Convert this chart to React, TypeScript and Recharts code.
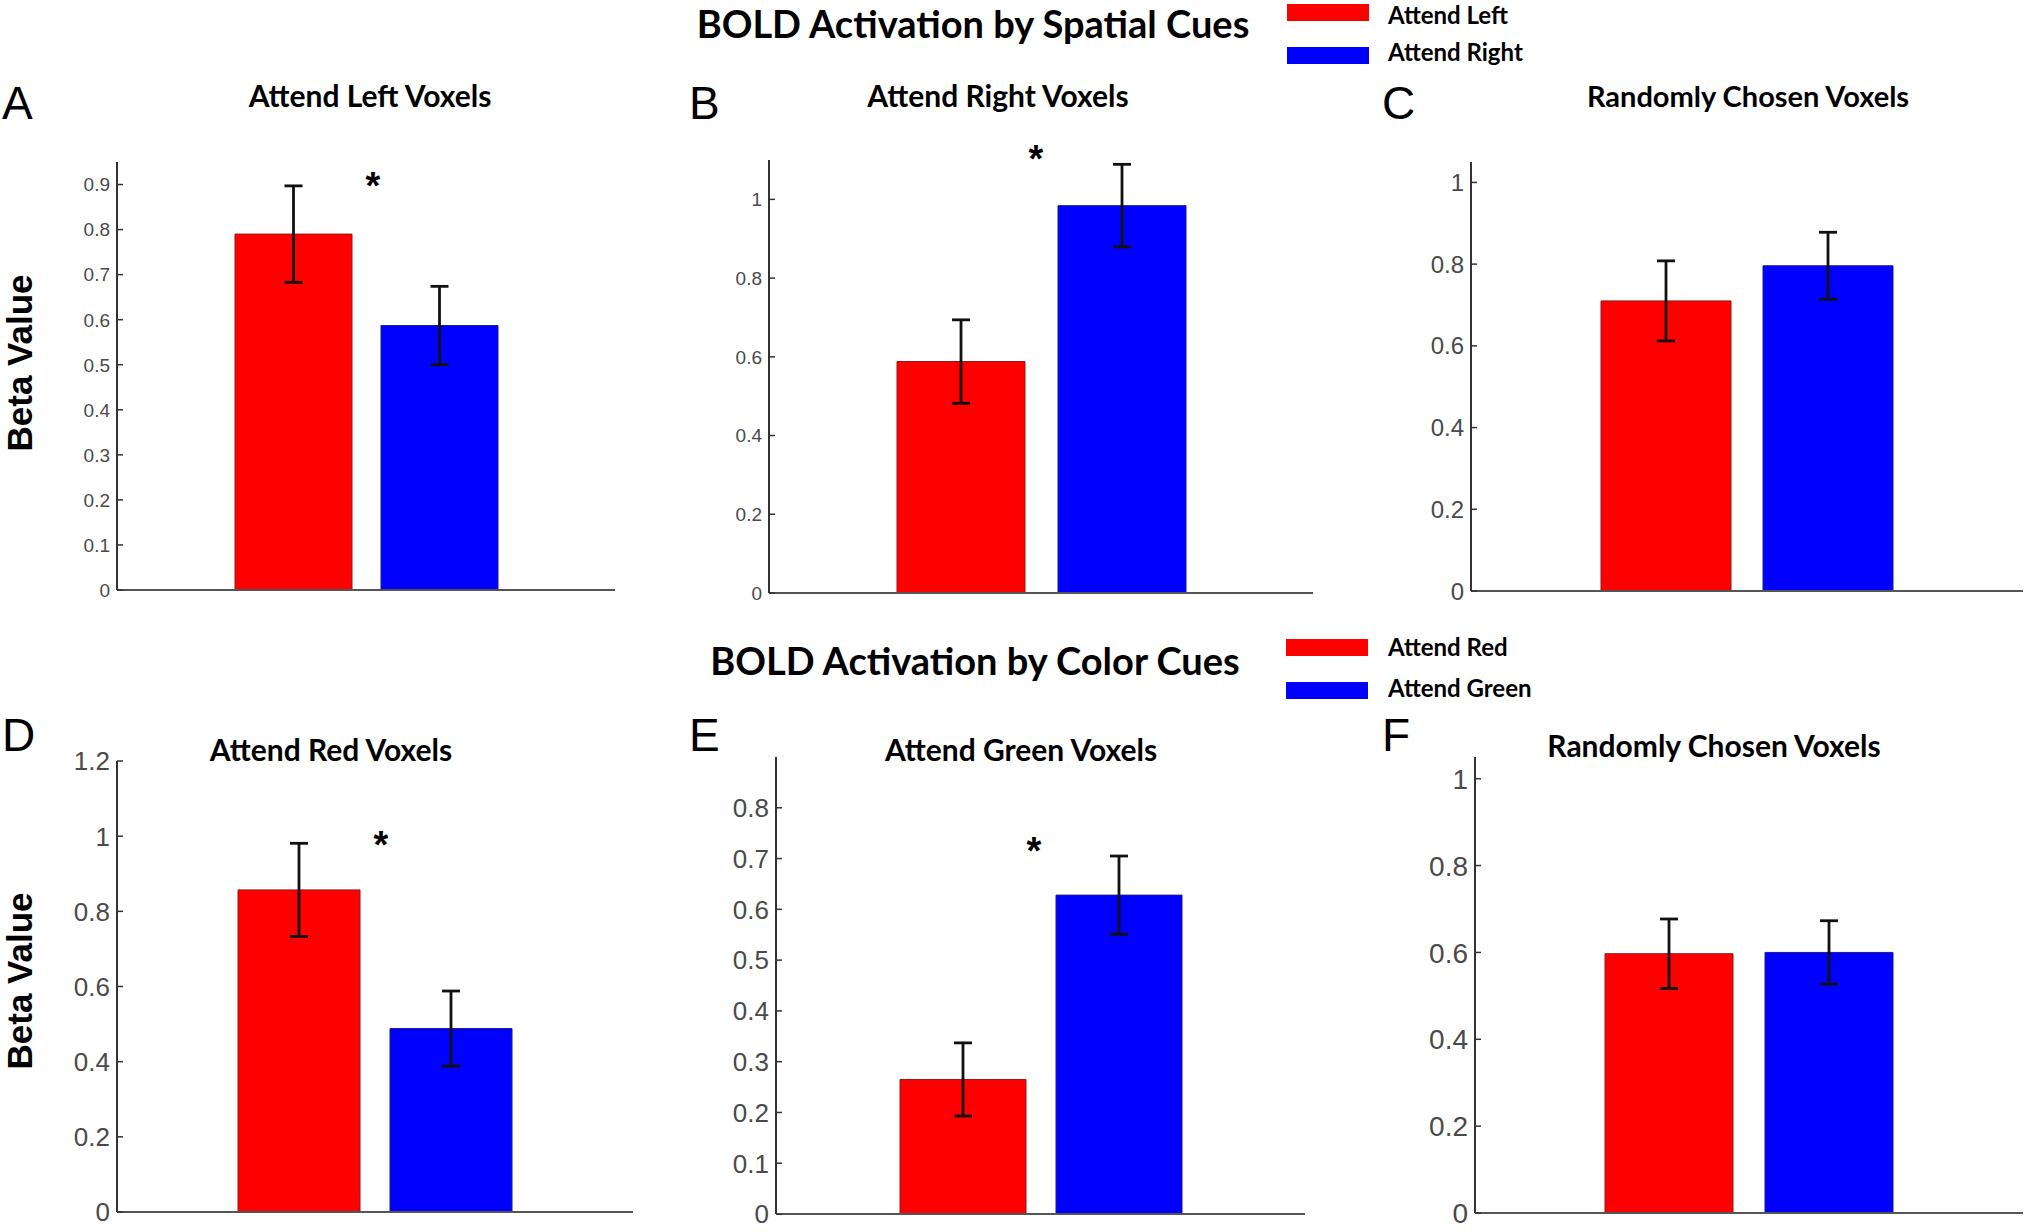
import React from 'react'
import { BarChart, Bar, XAxis, YAxis, ErrorBar } from 'recharts'

// spatial cue panels (A-C)
const spatialTitles = ['Attend Left Voxels', 'Attend Right Voxels', 'Randomly Chosen Voxels']
const spatialLeft = [0.79, 0.588, 0.71]
const spatialLeftErr = [0.107, 0.106, 0.098]
const spatialRight = [0.587, 0.984, 0.796]
const spatialRightErr = [0.087, 0.105, 0.082]

// color cue panels (D-F)
const colorTitles = ['Attend Red Voxels', 'Attend Green Voxels', 'Randomly Chosen Voxels']
const colorRed = [0.857, 0.265, 0.597]
const colorRedErr = [0.124, 0.072, 0.08]
const colorGreen = [0.488, 0.628, 0.6]
const colorGreenErr = [0.1, 0.077, 0.073]

const panelLetters = ['A', 'B', 'C', 'D', 'E', 'F']
const significant = [true, true, false, true, true, false]
const yMax = [0.95, 1.1, 1.05, 1.2, 0.9, 1.05]
const yTicks = [
  [0, 0.1, 0.2, 0.3, 0.4, 0.5, 0.6, 0.7, 0.8, 0.9],
  [0, 0.2, 0.4, 0.6, 0.8, 1],
  [0, 0.2, 0.4, 0.6, 0.8, 1],
  [0, 0.2, 0.4, 0.6, 0.8, 1, 1.2],
  [0, 0.1, 0.2, 0.3, 0.4, 0.5, 0.6, 0.7, 0.8],
  [0, 0.2, 0.4, 0.6, 0.8, 1],
]
const sectionTitles = ['BOLD Activation by Spatial Cues', 'BOLD Activation by Color Cues']
const legendLabels = [['Attend Left', 'Attend Right'], ['Attend Red', 'Attend Green']]

// positions on the 2029x1232 page
const LAYOUT = [
  { axisX: 117, top: 162, bottom: 590, right: 615, barSize: 117, gap: 29, fs: 19, titleX: 370, titleY: 107, letterX: 2, letterY: 119, star: [373, 182] },
  { axisX: 769, top: 160, bottom: 593, right: 1313, barSize: 128, gap: 33, fs: 19, titleX: 998, titleY: 107, letterX: 689, letterY: 119, star: [1036, 155] },
  { axisX: 1471, top: 162, bottom: 591, right: 2023, barSize: 130, gap: 32, fs: 24, titleX: 1748, titleY: 107, letterX: 1382, letterY: 119, star: null },
  { axisX: 117, top: 761, bottom: 1212, right: 633, barSize: 122, gap: 30, fs: 26, titleX: 331, titleY: 761, letterX: 2, letterY: 751, star: [381, 841] },
  { axisX: 776, top: 757, bottom: 1214, right: 1305, barSize: 126, gap: 30, fs: 26, titleX: 1021, titleY: 761, letterX: 689, letterY: 751, star: [1034, 847] },
  { axisX: 1475, top: 757, bottom: 1213, right: 2023, barSize: 128, gap: 32, fs: 28, titleX: 1714, titleY: 757, letterX: 1382, letterY: 751, star: null },
]
const SECTION = [
  { titleX: 973, titleY: 38, swX: 1287, swY: [4, 47], textX: 1388, textY: [24, 61] },
  { titleX: 975, titleY: 675, swX: 1286, swY: [639, 682], textX: 1388, textY: [656, 697] },
]

const CAL = "Lato, 'Open Sans', sans-serif"
const ARIAL = "'Liberation Sans', Arial, sans-serif"
const RED = '#ff0000'
const BLUE = '#0000ff'

const fmt = (v: number) => String(Math.round(v * 10) / 10)

function YTick(props: any) {
  const { x, y, payload, fs } = props
  return (
    <g>
      <line x1={x + 7} x2={x + 13} y1={y} y2={y} stroke="#333" strokeWidth={1.5} />
      <text x={x} y={y} dy="0.36em" textAnchor="end" fill="#4a4a4a" fontSize={fs} fontFamily={ARIAL}>
        {fmt(payload.value)}
      </text>
    </g>
  )
}

function Panel({ i, a, aErr, b, bErr }: { i: number; a: number; aErr: number; b: number; bErr: number }) {
  const L = LAYOUT[i]
  const W = 70
  const mt = 20
  const mb = 20
  const mr = 4
  const width = L.right - L.axisX + W + mr
  const height = L.bottom - L.top + mt + mb + 1
  const data = [{ name: 'g', a, b, aErr, bErr }]
  return (
    <div style={{ position: 'absolute', left: L.axisX - W, top: L.top - mt }}>
      <BarChart width={width} height={height} data={data} margin={{ top: mt, right: mr, bottom: mb, left: 0 }} barGap={L.gap}>
        <XAxis dataKey="name" tick={false} tickLine={false} height={1} axisLine={{ stroke: '#555', strokeWidth: 2 }} />
        <YAxis
          width={W}
          type="number"
          domain={[0, yMax[i]]}
          ticks={yTicks[i]}
          interval={0}
          allowDataOverflow
          axisLine={{ stroke: '#333', strokeWidth: 2 }}
          tickLine={false}
          tickSize={0}
          tickMargin={7}
          tick={<YTick fs={L.fs} />}
        />
        <Bar dataKey="a" fill={RED} stroke="#8a1a1a" strokeWidth={1} barSize={L.barSize} isAnimationActive={false}>
          <ErrorBar dataKey="aErr" width={9} stroke="#111" strokeWidth={2.8} direction="y" />
        </Bar>
        <Bar dataKey="b" fill={BLUE} stroke="#1a1a8a" strokeWidth={1} barSize={L.barSize} isAnimationActive={false}>
          <ErrorBar dataKey="bErr" width={9} stroke="#111" strokeWidth={2.8} direction="y" />
        </Bar>
      </BarChart>
    </div>
  )
}

export default function App() {
  const titles = [...spatialTitles, ...colorTitles]
  const first = [...spatialLeft, ...colorRed]
  const firstErr = [...spatialLeftErr, ...colorRedErr]
  const second = [...spatialRight, ...colorGreen]
  const secondErr = [...spatialRightErr, ...colorGreenErr]

  return (
    <div style={{ position: 'absolute', left: 0, top: 0, width: 2029, height: 1232, background: '#fff', overflow: 'hidden' }}>
      {titles.map((_, i) => (
        <Panel key={i} i={i} a={first[i]} aErr={firstErr[i]} b={second[i]} bErr={secondErr[i]} />
      ))}
      <svg width={2029} height={1232} style={{ position: 'absolute', left: 0, top: 0, pointerEvents: 'none' }}>
        {SECTION.map((s, k) => (
          <g key={k}>
            <text x={s.titleX} y={s.titleY} textAnchor="middle" fontFamily={CAL} fontWeight={700} fontSize={38} fill="#000">
              {sectionTitles[k]}
            </text>
            <rect x={s.swX} y={s.swY[0]} width={82} height={17} fill={RED} />
            <rect x={s.swX} y={s.swY[1]} width={82} height={17} fill={BLUE} />
            {legendLabels[k].map((lab, j) => (
              <text key={lab} x={s.textX} y={s.textY[j]} fontFamily={CAL} fontWeight={700} fontSize={24} fill="#000">
                {lab}
              </text>
            ))}
          </g>
        ))}
        {LAYOUT.map((L, i) => (
          <g key={i}>
            <text x={L.titleX} y={L.titleY} textAnchor="middle" fontFamily={CAL} fontWeight={700} fontSize={i === 2 ? 29 : 30} fill="#000">
              {titles[i]}
            </text>
            <text x={L.letterX} y={L.letterY} fontFamily={ARIAL} fontSize={46} fill="#000">
              {panelLetters[i]}
            </text>
            {significant[i] && L.star && (
              <text x={L.star[0]} y={L.star[1] + 17} textAnchor="middle" fontFamily={ARIAL} fontWeight={700} fontSize={38} fill="#000">
                *
              </text>
            )}
          </g>
        ))}
        {[363, 981].map((cy) => (
          <text key={cy} x={0} y={0} transform={`translate(19.5 ${cy}) rotate(-90)`} textAnchor="middle" dominantBaseline="central" fontFamily={ARIAL} fontWeight={700} fontSize={35} fill="#000">
            Beta Value
          </text>
        ))}
      </svg>
    </div>
  )
}
